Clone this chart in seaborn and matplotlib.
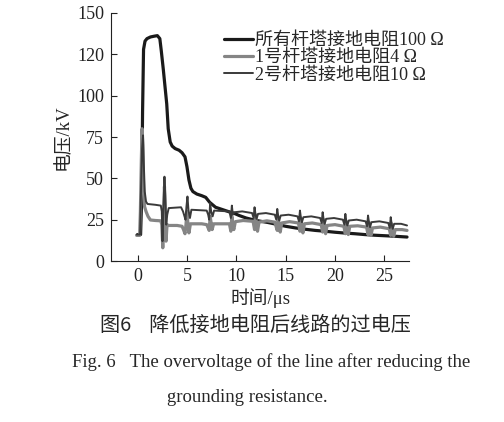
import numpy as np
import pandas as pd
import matplotlib
matplotlib.use("Agg")
import matplotlib.pyplot as plt
import seaborn as sns

# 所有杆塔接地电阻100 Ω (black)
t_all = [0.0, 0.3, 0.42, 0.5, 0.6, 0.75, 0.95, 1.3, 1.7, 2.0, 2.25, 2.4, 2.6, 2.8,
         2.95, 3.1, 3.3, 3.5, 3.8, 4.2, 4.5, 4.8, 5.0, 5.2, 5.4, 5.6, 6.0, 6.5, 6.9,
         7.3, 7.6, 7.9, 8.4, 8.9, 9.4, 9.8, 10.3, 11.0, 11.8, 12.5, 13.2, 14.0, 15.0,
         16.0, 17.0, 18.0, 19.0, 20.0, 21.0, 22.0, 23.0, 24.0, 25.0, 26.0, 27.3]
v_all = [16, 16, 40, 90, 128, 133, 134.5, 135.5, 136, 136.3, 134.5, 127, 116, 104,
         95, 80, 72, 69.5, 68, 67, 65.5, 63, 57, 49, 44, 42, 40.5, 39.5, 38.5,
         35.5, 34, 32.5, 31.5, 30.5, 29.5, 28.8, 27.5, 26, 24.8, 24, 23.3, 22.3, 21,
         20, 19.2, 18.5, 18, 17.4, 16.9, 16.5, 16, 15.6, 15.3, 15, 14.5]

# 1号杆塔接地电阻4 Ω (grey)
t_no1 = [-0.1, 0.2, 0.28, 0.38, 0.45, 0.52, 0.6, 0.7, 0.85, 1.05, 1.3, 1.8, 2.35,
         2.45, 2.55, 2.62, 2.72, 2.8, 2.88, 2.98, 3.1, 4.0, 4.5, 4.65, 4.8, 4.9, 5.0,
         5.1, 5.2, 5.35, 6.5, 7.0, 7.15, 7.25, 7.35, 7.45, 7.55, 7.7, 9.3, 9.45, 9.55,
         9.65, 9.75, 9.9, 10.7, 11.7, 11.85, 11.95, 12.05, 12.15, 12.3, 13.1, 13.9,
         14.15, 14.25, 14.35, 14.45, 14.6, 15.4, 16.3, 16.45, 16.55, 16.65, 16.75,
         16.9, 17.7, 18.6, 18.75, 18.85, 18.95, 19.05, 19.2, 20.0, 20.9, 21.05, 21.15,
         21.25, 21.35, 21.5, 22.3, 23.2, 23.35, 23.45, 23.55, 23.65, 23.8, 24.6, 25.5,
         25.65, 25.75, 25.85, 25.95, 26.1, 26.8, 27.3]
v_no1 = [15.5, 15.5, 30, 62, 80, 70, 45, 33, 30, 27, 24.8, 24.5, 24.3,
         22, 8, 24, 45, 30, 12, 22, 21.5, 21.5, 21, 19, 16.5, 22, 30,
         22, 17, 22.5, 22.5, 22, 20, 18.5, 27, 23, 19, 22.5, 22.5, 18, 27,
         21, 19, 23.8, 24.5, 24, 19, 28, 22, 18, 23.5, 24.3, 23.5,
         18.5, 26.5, 21, 17.5, 23, 23.8, 23, 18, 26, 20.5, 17,
         22.5, 23, 22, 17.5, 25, 20, 16.5, 21.5, 22, 21, 16.5, 24,
         19.5, 16, 21, 21.3, 20.5, 16, 23.5, 19, 15.5, 20, 20.5, 19.5,
         15.5, 22.5, 18, 15, 19, 19, 18.5]

# 2号杆塔接地电阻10 Ω (dark grey)
t_no2 = [-0.1, 0.25, 0.35, 0.45, 0.55, 0.62, 0.72, 0.85, 1.0, 1.8, 2.35, 2.45, 2.52,
         2.6, 2.72, 2.8, 2.9, 3.0, 3.15, 4.4, 4.6, 4.75, 4.85, 4.95, 5.05, 5.15, 5.3,
         5.45, 7.0, 7.15, 7.25, 7.35, 7.45, 7.6, 7.75, 9.3, 9.45, 9.55, 9.65, 9.8,
         10.6, 11.6, 11.75, 11.85, 11.95, 12.05, 12.2, 13.0, 13.9, 14.05, 14.15, 14.25,
         14.35, 14.5, 15.3, 16.2, 16.35, 16.45, 16.55, 16.65, 16.8, 17.6, 18.5, 18.65,
         18.75, 18.85, 18.95, 19.1, 19.9, 20.8, 20.95, 21.05, 21.15, 21.25, 21.4, 22.2,
         23.1, 23.25, 23.35, 23.45, 23.55, 23.7, 24.5, 25.4, 25.55, 25.65, 25.75, 25.85,
         26.0, 26.7, 27.3]
v_no2 = [16, 16, 45, 68, 76, 60, 42, 36, 34.5, 34, 33.5, 30, 12,
         30, 51, 40, 22, 28, 32, 32.5, 30, 27, 25, 33, 39, 31, 26,
         31, 30.5, 28, 25, 35, 30, 27, 30.5, 30, 26, 33.5, 28, 29.5,
         30, 29, 26, 32.5, 28, 25.5, 28.5, 29, 28, 25, 31.5, 27,
         24.5, 27.5, 28, 27, 24, 30.5, 26, 23.5, 26.5, 27, 26, 23,
         29.5, 25, 22.5, 25.5, 26, 25, 22, 28.5, 24, 21.5, 24.5, 25,
         24, 21, 27.5, 23, 20.5, 23.5, 24, 23, 20, 26.5, 22, 19.5,
         22.5, 22.5, 21.5]

labels = ["所有杆塔接地电阻100 Ω", "1号杆塔接地电阻4 Ω", "2号杆塔接地电阻10 Ω"]
x_ticks = [0, 5, 10, 15, 20, 25]
y_ticks = [0, 25, 50, 75, 100, 125, 150]
y_tick_labels = ["0", "25", "50", "75", "100", "120", "150"]

sns.set_style("ticks")
plt.rcParams['font.family'] = ['Liberation Serif', 'Noto Sans CJK SC']

fig = plt.figure(figsize=(5.04, 4.22), dpi=100)
ax = fig.add_axes([0.2202, 0.3815, 0.5913, 0.5877])

series = [(t_all, v_all, "#1a1a1a", 2.3),
          (t_no1, v_no1, "#858585", 2.3),
          (t_no2, v_no2, "#3a3a3a", 1.4)]
for (t, v, c, lw), lab in zip(series, labels):
    df = pd.DataFrame({"t": t, "v": v})
    sns.lineplot(data=df, x="t", y="v", ax=ax, color=c, lw=lw, label=lab,
                 estimator=None, sort=False)

ax.set_xlim(-2.7, 27.5)
ax.set_ylim(0, 150)
ax.set_xticks(x_ticks)
ax.set_yticks(y_ticks)
ax.set_yticklabels(y_tick_labels)
ax.tick_params(direction="in", length=4, width=0.8, labelsize=13, pad=5, colors="#222222")
for s in ["top", "right"]:
    ax.spines[s].set_visible(False)
for s in ["left", "bottom"]:
    ax.spines[s].set_linewidth(0.8)
    ax.spines[s].set_color("#222222")

ax.set_xlabel("时间/μs", fontsize=13.5, labelpad=2)
ax.set_ylabel("电压/kV", fontsize=13.5, labelpad=4)

ax.legend(loc="upper left", bbox_to_anchor=(224 / 504, 1 - 32 / 422),
          bbox_transform=fig.transFigure, frameon=False, fontsize=13,
          handlelength=1.6, handletextpad=0.1, labelspacing=0.02,
          borderpad=0, borderaxespad=0)

fig.text(255 / 504, 1 - 325 / 422, "图6    降低接地电阻后线路的过电压",
         ha="center", va="center", fontsize=14.5, family="Noto Sans CJK SC")
fig.text(271 / 504, 1 - 362 / 422, "Fig. 6   The overvoltage of the line after reducing the",
         ha="center", va="center", fontsize=13.5)
fig.text(247 / 504, 1 - 397 / 422, "grounding resistance.",
         ha="center", va="center", fontsize=13.5)

fig.savefig("out.png", dpi=100)
